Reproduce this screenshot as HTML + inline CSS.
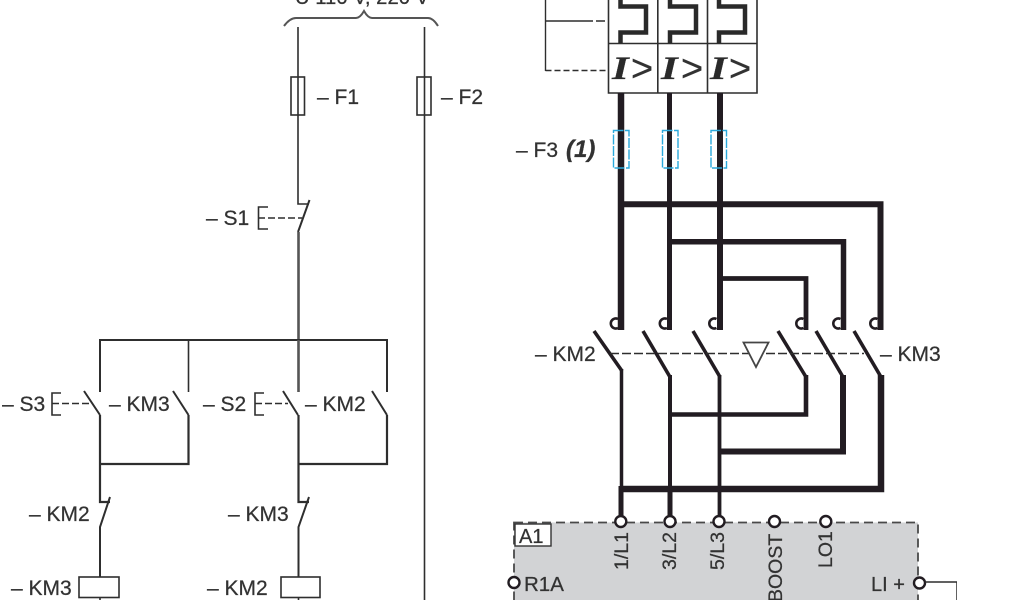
<!DOCTYPE html>
<html>
<head>
<meta charset="utf-8">
<style>
html,body{margin:0;padding:0;background:#fff;width:1024px;height:600px;overflow:hidden}
svg{display:block}
text{font-family:"Liberation Sans",sans-serif;fill:#333;stroke:#333;stroke-width:.25px}
.t{font-size:21px}
.s{font-size:19.500px}
</style>
</head>
<body>
<svg width="1024" height="600" viewBox="0 0 1024 600" xmlns="http://www.w3.org/2000/svg">
<defs><filter id="b" x="0" y="0" width="100%" height="100%"><feGaussianBlur stdDeviation="0.35"/></filter></defs>
<g filter="url(#b)">
<g fill="none" stroke="#2e2e2e" stroke-width="1.600">
  <!-- brace -->
  <path d="M284,26 Q290,18 296,18 L356,18 Q360,18 364,11 Q368,18 372,18 L428,18 Q433,18 438,26" stroke="#555" stroke-width="2"/>
  <!-- mains -->
  <path d="M298,27V204H309"/>
  <path d="M424.500,27V600"/>
  <rect x="291" y="77" width="13.500" height="38" fill="none"/>
  <rect x="417" y="77" width="14" height="38"/>
  <!-- S1 -->
  <path d="M309.500,200L298,232" stroke-width="2"/>
  <path d="M298.500,232V340" stroke="#555" stroke-width="2.600"/>
  <path d="M268,207H258.500V229H268"/>
  <path d="M258,218H302" stroke-dasharray="7 3"/>
  <!-- top bus -->
  <path d="M100,392V340H387V392" stroke-width="2"/>
  <path d="M188.500,340V392"/>
  <path d="M298.500,340V392" stroke="#555" stroke-width="2.600"/>
  <!-- S3/KM3 -->
  <path d="M84,391L100,415" stroke-width="2"/>
  <path d="M173,391L188.500,415" stroke-width="2"/>
  <path d="M100,415V502H110" stroke-width="2.200"/>
  <path d="M188.500,415V464H100" stroke-width="2.200"/>
  <path d="M61,393H52V415H61"/>
  <path d="M52,403.500H90" stroke-dasharray="7 3"/>
  <!-- S2/KM2 -->
  <path d="M283,391L298,415" stroke-width="2"/>
  <path d="M372,391L387,415" stroke-width="2"/>
  <path d="M298.500,415V502H309" stroke-width="2.200"/>
  <path d="M387,415V464H298" stroke-width="2.200"/>
  <path d="M264,393H255V415H264"/>
  <path d="M255,403.500H288" stroke-dasharray="7 3"/>
  <!-- NC contacts -->
  <path d="M110,497L100,527V577" stroke-width="2"/>
  <path d="M309,497L298.500,527V577" stroke-width="2"/>
  <!-- coils -->
  <rect x="79" y="577" width="40" height="20.500"/>
  <rect x="281" y="577" width="39" height="20.500"/>
  <path d="M100,597V600M298.500,597V600"/>
  <!-- breaker frame -->
  <path d="M608.500,0V93H757V0M657.800,0V93M707.500,0V93M608.500,43.500H757"/>
  <path d="M545.500,0V71" stroke-width="1.400"/>
  <path d="M545.500,21H584" stroke-width="1.400"/>
  <path d="M584,21H608" stroke-width="1.400" stroke-dasharray="9 3"/>
  <path d="M545.500,70.500H608" stroke-width="1.400" stroke-dasharray="6 3"/>
</g>
<!-- thermal shapes -->
<g fill="none" stroke="#2a2a2a" stroke-width="4.500">
  <path d="M620.500,0V6.500H646V32.500H620.500V43"/>
  <path d="M670,0V6.500H696V32.500H670V43"/>
  <path d="M719,0V6.500H745V32.500H719V43"/>
</g>
<text transform="translate(612,79) scale(1.300,1)" style="font-family:'Liberation Serif',serif;font-style:italic;font-weight:bold;font-size:33px;fill:#2a2a2a">I</text>
<text transform="translate(661,79) scale(1.300,1)" style="font-family:'Liberation Serif',serif;font-style:italic;font-weight:bold;font-size:33px;fill:#2a2a2a">I</text>
<text transform="translate(710,79) scale(1.300,1)" style="font-family:'Liberation Serif',serif;font-style:italic;font-weight:bold;font-size:33px;fill:#2a2a2a">I</text>
<text x="631" y="81" style="font-size:38px;fill:#333">&gt;</text>
<text x="681" y="81" style="font-size:38px;fill:#333">&gt;</text>
<text x="729" y="81" style="font-size:38px;fill:#333">&gt;</text>

<!-- power -->
<g fill="none" stroke="#231f20" stroke-linecap="butt">
  <path d="M621,93V330" stroke-width="6.500"/>
  <path d="M669.500,93V330" stroke-width="5"/>
  <path d="M720,93V330" stroke-width="6"/>
  <path d="M621,204.300H880.500V330" stroke-width="6"/>
  <path d="M669.500,241.800H843.500V330" stroke-width="5.500"/>
  <path d="M720,278.500H806V330" stroke-width="4.800"/>
  <!-- fixed contacts -->
  <g stroke-width="2.600">
    <path d="M618,319A5,5 0 1,0 618,328"/>
    <path d="M667,319A5,5 0 1,0 667,328"/>
    <path d="M716.500,319A5,5 0 1,0 716.500,328"/>
    <path d="M803.500,319A5,5 0 1,0 803.500,328"/>
    <path d="M840.500,319A5,5 0 1,0 840.500,328"/>
    <path d="M877.500,319A5,5 0 1,0 877.500,328"/>
  </g>
  <!-- moving contacts -->
  <g stroke-width="3.600">
    <path d="M594,331L622,371"/>
    <path d="M643,331L670,377"/>
    <path d="M693,331L720,377"/>
    <path d="M778,331L806,377"/>
    <path d="M816,331L843,377"/>
    <path d="M854,331L881,377"/>
  </g>
  <path d="M621.500,369V516" stroke-width="3.500"/>
  <path d="M670,375V516" stroke-width="4"/>
  <path d="M719.500,375V516" stroke-width="3.800"/>
  <path d="M806,375V414.500H670" stroke-width="4.600"/>
  <path d="M843,375V451.500H719.500" stroke-width="6"/>
  <path d="M881,375V489H621" stroke-width="6.500"/>
  <path d="M621,486V516" stroke-width="5"/>
  <path d="M670,486V516" stroke-width="5"/>
</g>
<!-- mechanical link -->
<path d="M610,353.500H864" stroke="#2e2e2e" stroke-width="1.500" stroke-dasharray="9 3" fill="none"/>
<path d="M743.500,342.500H768.500L756,367Z" fill="#fff" stroke="#444" stroke-width="1.800"/>

<!-- fuses F3 -->
<g fill="none" stroke="#29a9dc" stroke-width="1.400" stroke-dasharray="10 1.500">
  <rect x="613.500" y="130.500" width="15.500" height="37.500"/>
  <rect x="662.500" y="130.500" width="15.500" height="37.500"/>
  <rect x="711" y="130.500" width="15.500" height="37.500"/>
</g>

<!-- A1 block -->
<rect x="514" y="522.500" width="404" height="90" fill="#d2d3d5" stroke="#4a4a4a" stroke-width="1.800" stroke-dasharray="9 5"/>
<rect x="515" y="524" width="36" height="22" fill="#fff" stroke="#333" stroke-width="1.400"/>
<g fill="#fff" stroke="#231f20" stroke-width="2.400">
  <circle cx="620.800" cy="521.500" r="5.500"/>
  <circle cx="670" cy="521.500" r="5.500"/>
  <circle cx="719" cy="521.500" r="5.500"/>
  <circle cx="774.500" cy="521.500" r="5.500"/>
  <circle cx="825.800" cy="521.500" r="5.500"/>
  <circle cx="514" cy="582.500" r="5.500"/>
  <circle cx="919.500" cy="583" r="5.500"/>
</g>
<path d="M925,582H957V600" fill="none" stroke="#2e2e2e" stroke-width="1.500"/>

<!-- labels -->
<text x="295" y="4" style="font-size:20.300px">U 110 V, 220 V</text>
<text class="t" x="317" y="104">– F1</text>
<text class="t" x="441" y="104">– F2</text>
<text class="t" x="206" y="225">– S1</text>
<text class="t" x="2" y="411">– S3</text>
<text class="t" x="109" y="411">– KM3</text>
<text class="t" x="203" y="411">– S2</text>
<text class="t" x="305" y="411">– KM2</text>
<text class="t" x="29" y="521">– KM2</text>
<text class="t" x="228" y="521">– KM3</text>
<text class="t" x="11" y="595">– KM3</text>
<text class="t" x="207" y="595">– KM2</text>
<text class="t" x="516" y="157">– F3</text>
<text x="566" y="157" style="font-size:24px;font-style:italic;font-weight:bold">(1)</text>
<text class="t" x="535" y="361">– KM2</text>
<text class="t" x="880" y="361">– KM3</text>

<text x="519" y="543" style="font-size:20px">A1</text>
<text x="524" y="591" style="font-size:20.500px">R1A</text>
<text x="871" y="591" style="font-size:20px">LI +</text>
<text class="s" transform="translate(628,570) rotate(-90)">1/L1</text>
<text class="s" transform="translate(676,570) rotate(-90)">3/L2</text>
<text class="s" transform="translate(724,570) rotate(-90)">5/L3</text>
<text class="s" transform="translate(782,602) rotate(-90)">BOOST</text>
<text class="s" transform="translate(832,568) rotate(-90)">LO1</text>
</g>
</svg>
</body>
</html>
